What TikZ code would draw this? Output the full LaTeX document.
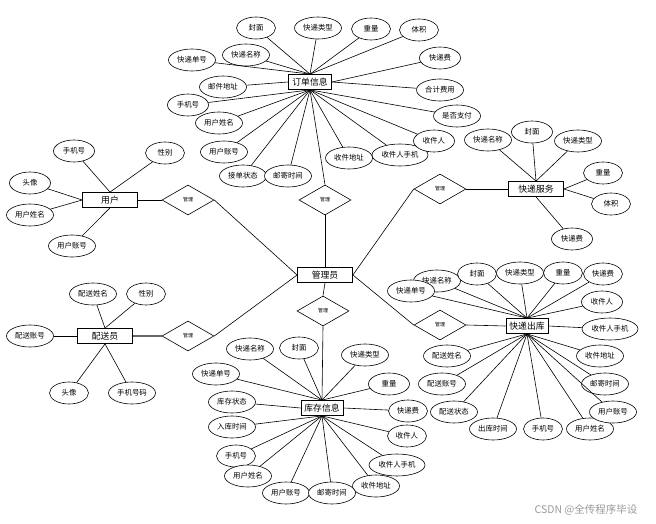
\documentclass[tikz,border=0pt]{standalone}
\usepackage{fontspec}
\setmainfont{Noto Sans CJK SC}
\usetikzlibrary{shapes.geometric,shadows}
\begin{document}
\begin{tikzpicture}[x=1pt,y=-1pt,
 attr/.style={ellipse,draw,fill=white,line width=0.6pt,inner sep=0pt,minimum height=22pt,font=\fontsize{7.4}{8}\selectfont},
 aa/.style={attr,minimum width=39pt},
 ab/.style={attr,minimum width=41pt},
 ac/.style={attr,minimum width=47pt},
 ad/.style={attr,minimum width=56pt},
 ent/.style={rectangle,draw,fill=white,line width=0.8pt,inner sep=0pt,minimum height=15pt,font=\fontsize{8.8}{10}\selectfont,drop shadow={shadow xshift=0.8pt,shadow yshift=-0.8pt,fill=black!45,opacity=1}},
 rel/.style={diamond,draw,fill=white,line width=0.6pt,inner sep=0pt,minimum width=52pt,minimum height=30pt,font=\fontsize{5}{6}\selectfont},
 conn/.style={line width=0.6pt}]
\useasboundingbox (0,0) rectangle (656,524);

% ---------- entities ----------
\node[ent,minimum width=43pt] (D) at (310,82) {订单信息};
\node[ent,minimum width=55pt] (U) at (110,200) {用户};
\node[ent,minimum width=55pt] (P) at (105,336) {配送员};
\node[ent,minimum width=55pt] (S) at (536,189) {快递服务};
\node[ent,minimum width=42pt] (O) at (527,326) {快递出库};
\node[ent,minimum width=42pt] (K) at (322,408) {库存信息};
\node[ent,minimum width=55pt] (M) at (325,275) {管理员};

% ---------- relations ----------
\node[rel] (r1) at (188,200) {管理};
\node[rel] (r2) at (325,200) {管理};
\node[rel] (r3) at (440,189) {管理};
\node[rel] (r4) at (323,311) {管理};
\node[rel] (r5) at (440,325) {管理};
\node[rel] (r6) at (188,336) {管理};

% ---------- 订单信息 attributes ----------
\node[aa] (d1) at (256,28) {封面};
\node[ac] (d2) at (318,28) {快递类型};
\node[aa] (d3) at (371,29) {重量};
\node[aa] (d4) at (419,30) {体积};
\node[ac] (d5) at (192,60) {快递单号};
\node[ac] (d6) at (246,55) {快递名称};
\node[ab] (d7) at (440,58) {快递费};
\node[ac] (d8) at (223,87) {邮件地址};
\node[ac] (d9) at (440,90) {合计费用};
\node[ab] (d10) at (188,105) {手机号};
\node[ac] (d11) at (219,123) {用户姓名};
\node[ac] (d12) at (224,152) {用户账号};
\node[ac] (d13) at (243,176) {接单状态};
\node[ac] (d14) at (288,176) {邮寄时间};
\node[ac] (d15) at (349,158) {收件地址};
\node[ad] (d16) at (400,155) {收件人手机};
\node[ab] (d17) at (434,141) {收件人};
\node[ac] (d18) at (457,116) {是否支付};

% ---------- 用户 attributes ----------
\node[ab] (u1) at (74,151) {手机号};
\node[aa] (u2) at (165,153) {性别};
\node[ab] (u3) at (30,183) {头像};
\node[ac] (u4) at (30,215) {用户姓名};
\node[ac] (u5) at (72,246) {用户账号};

% ---------- 配送员 attributes ----------
\node[ac] (p1) at (93,294) {配送姓名};
\node[aa] (p2) at (146,294) {性别};
\node[ac] (p3) at (30,336) {配送账号};
\node[aa] (p4) at (69,393) {头像};
\node[ac] (p5) at (132,393) {手机号码};

% ---------- 快递服务 attributes ----------
\node[ac] (s1) at (488,140) {快递名称};
\node[ab] (s2) at (532,132) {封面};
\node[ac] (s3) at (578,141) {快递类型};
\node[aa] (s4) at (603,173) {重量};
\node[aa] (s5) at (611,204) {体积};
\node[ab] (s6) at (572,239) {快递费};

% ---------- 快递出库 attributes ----------
\node[ac] (o1) at (437,281) {快递名称};
\node[ac] (o2) at (411,291) {快递单号};
\node[aa] (o3) at (477,274) {封面};
\node[ac] (o4) at (520,273) {快递类型};
\node[aa] (o5) at (563,273) {重量};
\node[aa] (o6) at (603,274) {快递费};
\node[ab] (o7) at (602,302) {收件人};
\node[ad] (o8) at (610,329) {收件人手机};
\node[ac] (o9) at (600,356) {收件地址};
\node[ac] (o10) at (447,356) {配送姓名};
\node[ac] (o11) at (442,384) {配送账号};
\node[ac] (o12) at (454,412) {配送状态};
\node[ac] (o13) at (493,429) {出库时间};
\node[aa] (o14) at (543,429) {手机号};
\node[ac] (o15) at (590,429) {用户姓名};
\node[ac] (o16) at (613,412) {用户账号};
\node[ac] (o17) at (605,384) {邮寄时间};

% ---------- 库存信息 attributes ----------
\node[ac] (k1) at (250,349) {快递名称};
\node[aa] (k2) at (299,348) {封面};
\node[ac] (k3) at (365,355) {快递类型};
\node[ac] (k4) at (216,374) {快递单号};
\node[ab] (k5) at (389,384) {重量};
\node[ac] (k6) at (232,402) {库存状态};
\node[aa] (k7) at (408,411) {快递费};
\node[ac] (k8) at (232,427) {入库时间};
\node[aa] (k9) at (407,436) {收件人};
\node[aa] (k10) at (236,456) {手机号};
\node[ad] (k11) at (397,465) {收件人手机};
\node[ac] (k12) at (248,476) {用户姓名};
\node[ac] (k13) at (376,486) {收件地址};
\node[ac] (k14) at (286,493) {用户账号};
\node[ac] (k15) at (332,493) {邮寄时间};

% ---------- connectors ----------
\foreach \a in {d1,d2,d3,d4,d5,d6} \draw[conn] (\a) -- (D.north);
\foreach \a in {d7,d9} \draw[conn] (\a) -- (D.east);
\draw[conn] (d8) -- (D.west);
\foreach \a in {d10,d11,d12,d13,d14,d15,d16,d17,d18} \draw[conn] (\a) -- (D.south);
\draw[conn] (D.south) -- (r2.north);

\foreach \a in {u1,u2} \draw[conn] (\a) -- (U.north);
\foreach \a in {u3,u4} \draw[conn] (\a) -- (U.west);
\draw[conn] (u5) -- (U.south);
\draw[conn] (U.east) -- (r1.west);

\foreach \a in {p1,p2} \draw[conn] (\a) -- (P.north);
\draw[conn] (p3) -- (P.west);
\foreach \a in {p4,p5} \draw[conn] (\a) -- (P.south);
\draw[line width=1.6pt,black!60] (P.east) -- (r6.west);

\foreach \a in {s1,s2,s3} \draw[conn] (\a) -- (S.north);
\foreach \a in {s4,s5} \draw[conn] (\a) -- (S.east);
\draw[conn] (s6) -- (S.south);
\draw[conn] (r3.east) -- (S.west);

\foreach \a in {o1,o2,o3,o4,o5,o6,o7} \draw[conn] (\a) -- (O.north);
\draw[conn] (o8) -- (O.east);
\foreach \a in {o9,o10,o11,o12,o13,o14,o15,o16,o17} \draw[conn] (\a) -- (O.south);
\draw[conn] (r5.east) -- (O.west);

\foreach \a in {k1,k2,k3,k4,k5} \draw[conn] (\a) -- (K.north);
\draw[conn] (k6) -- (K.west);
\draw[conn] (k7) -- (K.east);
\foreach \a in {k8,k9,k10,k11,k12,k13,k14,k15} \draw[conn] (\a) -- (K.south);
\draw[conn] (r4.south) -- (K.north);

\draw[conn] (r2.south) -- (M.north);
\draw[conn] (M.south) -- (r4.north);
\draw[conn] (r1.east) -- (M.west);
\draw[conn] (r6.east) -- (M.west);
\draw[conn] (r3.west) -- (M.east);
\draw[conn] (r5.west) -- (M.east);

% ---------- watermark ----------
\node[text=black!40,font=\fontsize{10.5}{12}\selectfont,inner sep=0pt] (wm) at (586,510) {CSDN @全传程序毕设};
\end{tikzpicture}
\end{document}
